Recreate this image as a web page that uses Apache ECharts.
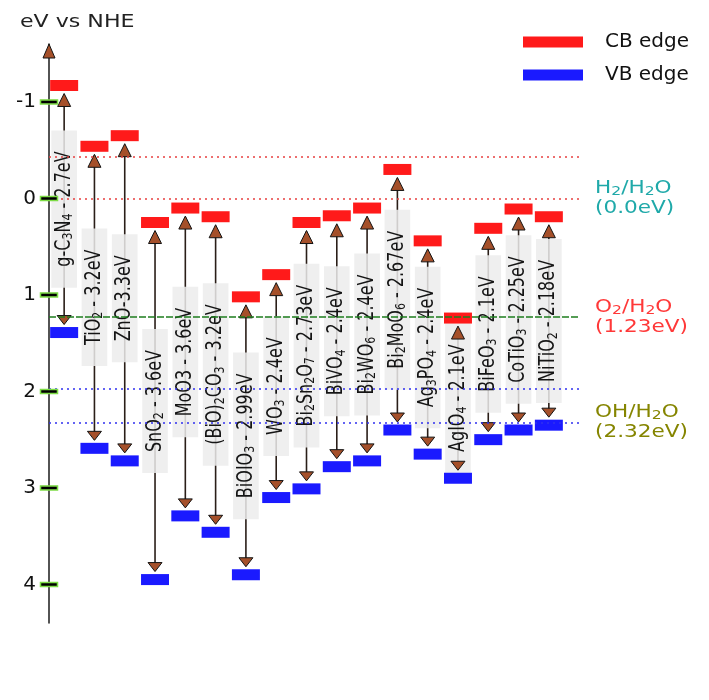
<!DOCTYPE html>
<html>
<head>
<meta charset="utf-8">
<script src="https://cdn.jsdelivr.net/npm/echarts@6/dist/echarts.min.js"></script>
<style>html,body{margin:0;padding:0;background:#fff}#chart{width:709px;height:700px}</style>
</head>
<body>
<div id="chart"></div>
<script>
// ---- data (eV vs NHE) ----
const materials = ['g-C₃N₄','TiO₂','ZnO','SnO₂','MoO3','(BiO)₂CO₃','BiOIO₃','WO₃','Bi₂Sn₂O₇','BiVO₄','Bi₂WO₆','Bi₂MoO₆','Ag₃PO₄','AgIO₄','BiFeO₃','CoTiO₃','NiTiO₂'];
const gapLabels = ['g-C₃N₄ - 2.7eV','TiO₂ - 3.2eV','ZnO-3.3eV','SnO₂ - 3.6eV','MoO3 - 3.6eV','(BiO)₂CO₃ - 3.2eV','BiOIO₃ - 2.99eV','WO₃ - 2.4eV','Bi₂Sn₂O₇ - 2.73eV','BiVO₄ - 2.4eV','Bi₂WO₆ - 2.4eV','Bi₂MoO₆ - 2.67eV','Ag₃PO₄ - 2.4eV','AgIO₄ - 2.1eV','BiFeO₃ - 2.1eV','CoTiO₃ - 2.25eV','NiTiO₂ - 2.18eV'];
const cbEdge = [-1.17,-0.54,-0.65,0.25,0.10,0.19,1.02,0.79,0.25,0.18,0.10,-0.30,0.44,1.24,0.31,0.11,0.19];
const vbEdge = [1.39,2.59,2.72,3.95,3.29,3.46,3.90,3.10,3.01,2.78,2.72,2.40,2.65,2.90,2.50,2.40,2.35];
const yTicks = [-1,0,1,2,3,4];
const refLevels = [-0.43, 0, 1.23, 1.97, 2.32];
const refNames = ['', 'H₂/H₂O\n(0.0eV)', 'O₂/H₂O\n(1.23eV)', '', 'OH/H₂O\n(2.32eV)'];
const yAxisTitle = 'eV vs NHE';

// ---- styles ----
const FONT = 'DejaVu Sans';
const Y_MIN = -1.6, Y_MAX = 4.4;
const STRETCH = 1.3;   // glyphs in the reference are widened horizontally
const refStyles = [
  {color:'#e84040', type:[2,4], width:1.5, label:null},
  {color:'#e84040', type:[2,4], width:1.5, label:'#1fa9a9'},
  {color:'#1e7d1e', type:[7,2], width:1.5, label:'#ff3838'},
  {color:'#3030f0', type:[2,4], width:1.5, label:null},
  {color:'#3030f0', type:[2,4], width:1.5, label:'#858500'}
];

// turn unicode subscript digits into rich-text segments
const SUB = '₀₁₂₃₄₅₆₇₈₉';
function toRich(str) {
  return str.split('\n').map(line => {
    let out = '', buf = '', isSub = false;
    const flush = () => { if (buf) out += '{' + (isSub ? 's' : 'n') + '|' + buf + '}'; buf = ''; };
    for (const ch of line) {
      const k = SUB.indexOf(ch);
      const sub = k >= 0;
      if (sub !== isSub) { flush(); isSub = sub; }
      buf += sub ? String(k) : ch;
    }
    flush();
    return out;
  }).join('\n');
}

const chart = echarts.init(document.getElementById('chart'));
const gridPos = {top: 44, bottom: 77};

const option = {
  animation: false,
  textStyle: {fontFamily: FONT},
  graphic: [{
    type: 'text', left: 20, top: 14, scaleX: STRETCH, silent: true,
    style: {text: yAxisTitle, font: '17px "DejaVu Sans"', fill: '#222'}
  }],
  legend: {
    orient: 'vertical', left: 523, top: 31, padding: 0, itemWidth: 60, itemHeight: 11, itemGap: 11,
    selectedMode: false, icon: 'rect',
    textStyle: {fontFamily: FONT, fontSize: 20, color: '#111', lineHeight: 22, padding: [0,0,0,17]},
    data: ['CB edge', 'VB edge']
  },
  grid: [
    Object.assign({left: 49, right: 145, outerBoundsMode: 'none'}, gridPos),
    Object.assign({left: 49, right: 129, outerBoundsMode: 'none'}, gridPos)
  ],
  xAxis: [
    {type: 'category', data: materials, show: false, gridIndex: 0},
    {type: 'value', min: 0, max: 1, show: false, gridIndex: 1}
  ],
  yAxis: [
    {type: 'value', inverse: true, min: Y_MIN, max: Y_MAX, gridIndex: 0,
     axisLine: {show: true, lineStyle: {color: '#1a1a1a', width: 1.5}},
     axisTick: {show: false}, splitLine: {show: false},
     axisLabel: {customValues: yTicks, fontSize: 20, color: '#111', margin: 13, fontFamily: FONT}},
    {type: 'value', inverse: true, min: Y_MIN, max: Y_MAX, gridIndex: 1, show: false}
  ],
  series: [
    {
      type: 'line', xAxisIndex: 1, yAxisIndex: 1, data: [], silent: true,
      markLine: {
        silent: true, symbol: ['none','none'], label: {show: false},
        data: refLevels.map((v, k) => ({
          yAxis: v,
          lineStyle: {color: refStyles[k].color, type: refStyles[k].type, width: refStyles[k].width}
        }))
      }
    },
    {
      // names of the reference potentials, at the right end of their lines
      type: 'custom', name: 'refLabels', silent: true, xAxisIndex: 1, yAxisIndex: 1,
      data: refLevels.map((v, k) => [0, v, k]), encode: {x: 0, y: 1},
      renderItem: (params, api) => {
        const k = api.value(2);
        if (!refNames[k]) return null;
        const cs = params.coordSys;
        const y = api.coord([0, api.value(1)])[1];
        const c = refStyles[k].label;
        return {type: 'text', x: cs.x + cs.width + 15, y: y, scaleX: 1.2,
          style: {text: toRich(refNames[k]), align: 'left', verticalAlign: 'middle',
            rich: {
              n: {fontSize: 18, fontFamily: FONT, fill: c, lineHeight: 20},
              s: {fontSize: 13, fontFamily: FONT, fill: c, lineHeight: 12, verticalAlign: 'bottom'}
            }}};
      }
    },
    {
      type: 'custom', name: 'arrows', silent: true, z: 2,
      data: materials.map((m, i) => [i, cbEdge[i], vbEdge[i]]),
      encode: {x: 0, y: [1, 2]},
      renderItem: (params, api) => {
        const i = api.value(0);
        const pC = api.coord([i, api.value(1)]);
        const pV = api.coord([i, api.value(2)]);
        const x = pC[0], yC = pC[1], yV = pV[1];
        const head = {fill: '#a5502a', stroke: '#141414', lineWidth: 1};
        return {type: 'group', children: [
          {type: 'line', shape: {x1: x, y1: yC + 9, x2: x, y2: yV - 9}, style: {stroke: '#2a1e18', lineWidth: 1.6}},
          {type: 'text', x: x, y: (yC + yV) / 2, rotation: Math.PI / 2, scaleY: 1.35,
           style: {text: toRich(gapLabels[params.dataIndex]), fill: '#151515',
                   align: 'center', verticalAlign: 'middle',
                   backgroundColor: 'rgba(236,236,236,0.85)', padding: [1, 21],
                   rich: {
                     n: {fontSize: 16, fontFamily: FONT, fill: '#151515', lineHeight: 17},
                     s: {fontSize: 11, fontFamily: FONT, fill: '#151515', lineHeight: 10, verticalAlign: 'bottom'}
                   }}},
          {type: 'polygon', shape: {points: [[x, yC + 8], [x - 6.5, yC + 21], [x + 6.5, yC + 21]]}, style: head},
          {type: 'polygon', shape: {points: [[x, yV - 8], [x - 7, yV - 17], [x + 7, yV - 17]]}, style: head}
        ]};
      }
    },
    {
      type: 'scatter', name: 'CB edge', symbol: 'rect', symbolSize: [28, 11], z: 4,
      itemStyle: {color: '#ff1a1a', opacity: 1}, emphasis: {disabled: true},
      data: cbEdge.map((v, i) => [i, v])
    },
    {
      type: 'scatter', name: 'VB edge', symbol: 'rect', symbolSize: [28, 11], z: 4,
      itemStyle: {color: '#1a1aff', opacity: 1}, emphasis: {disabled: true},
      data: vbEdge.map((v, i) => [i, v])
    },
    {
      type: 'custom', name: 'ticks', silent: true, z: 5,
      data: yTicks.map(v => [0, v]), encode: {x: 0, y: 1},
      renderItem: (params, api) => {
        const y = api.coord([0, api.value(1)])[1];
        const x = params.coordSys.x;
        return {type: 'rect', shape: {x: x - 8.5, y: y - 2, width: 17, height: 4},
                style: {fill: '#000', stroke: '#7ddc45', lineWidth: 1.5}};
      }
    },
    {
      type: 'custom', name: 'axisArrow', silent: true, z: 5,
      data: [[0, Y_MIN]], encode: {x: 0, y: 1},
      renderItem: (params, api) => {
        const y = api.coord([0, api.value(1)])[1];
        const x = params.coordSys.x;
        return {type: 'polygon', shape: {points: [[x, y], [x - 6, y + 14], [x + 6, y + 14]]},
                style: {fill: '#a5502a', stroke: '#141414', lineWidth: 1}};
      }
    }
  ]
};
chart.setOption(option);
</script>
</body>
</html>
